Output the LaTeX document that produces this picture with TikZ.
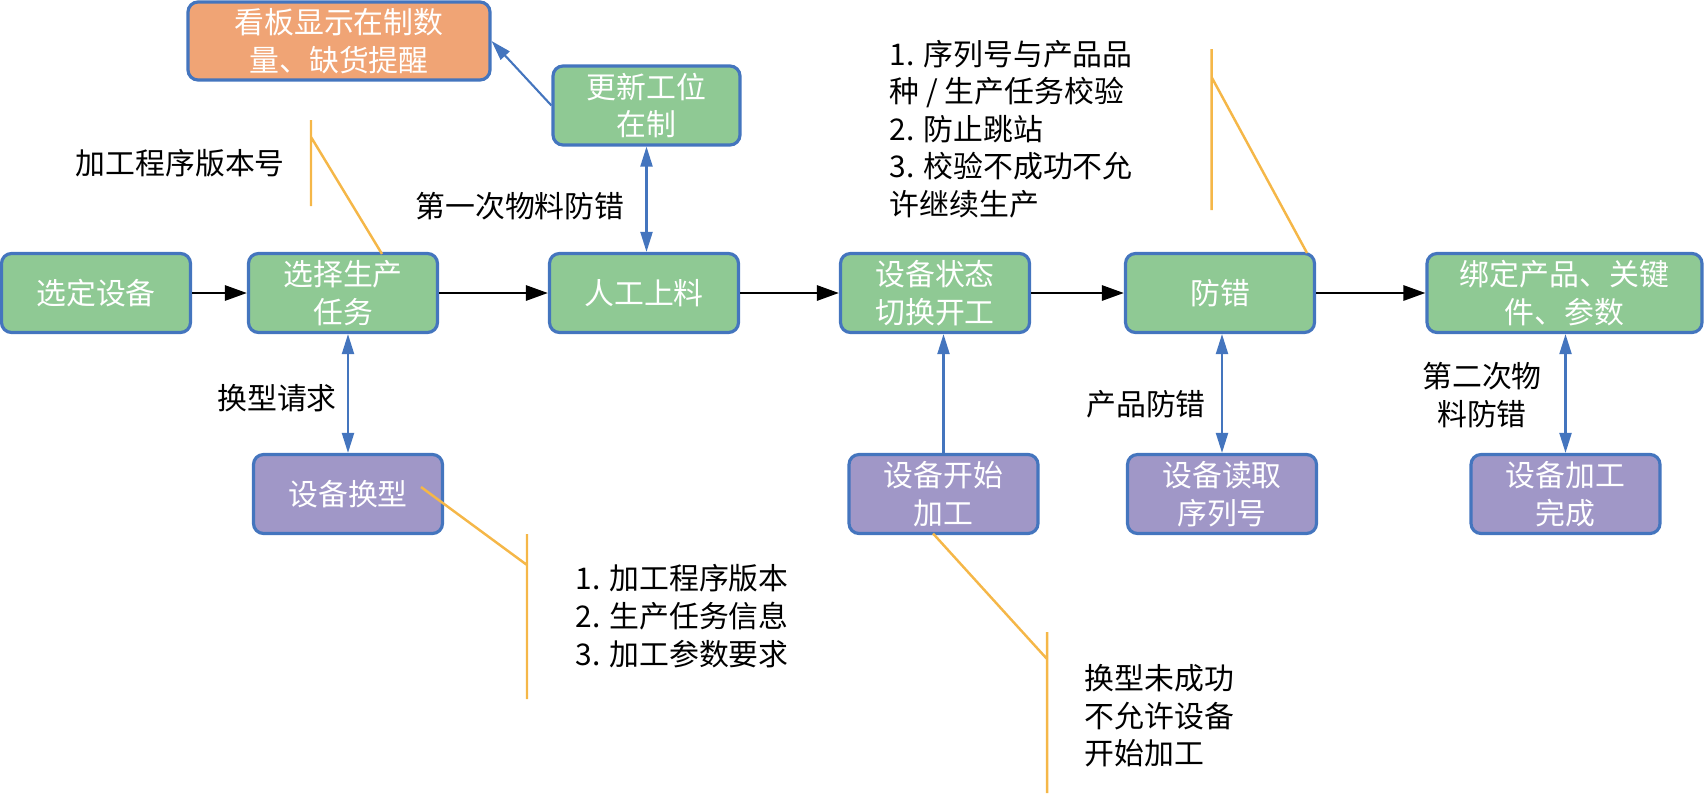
\documentclass[tikz,border=0pt]{standalone}
\usepackage{fontspec}
\setmainfont{Noto Sans CJK SC}
\usetikzlibrary{arrows.meta}
\definecolor{boxgreen}{RGB}{143,201,148}
\definecolor{boxpurple}{RGB}{160,151,199}
\definecolor{boxorange}{RGB}{240,164,117}
\definecolor{edgeblue}{RGB}{68,117,190}
\definecolor{noteline}{RGB}{245,183,72}
\begin{document}
\begin{tikzpicture}[
    font=\fontsize{8.5pt}{10.7pt}\selectfont,
    card/.style={draw=edgeblue, line width=0.9pt, rounded corners=0.1cm, text=white, align=center, minimum height=0.79cm, minimum width=1.89cm, inner sep=0pt},
    mainbox/.style={card, fill=boxgreen},
    devbox/.style={card, fill=boxpurple},
    flow/.style={line width=0.8pt, -{Triangle[length=0.22cm, width=0.15cm]}},
    link/.style={draw=edgeblue, line width=0.6pt, -{Triangle[length=0.2cm, width=0.12cm]}},
    bilink/.style={link, {Triangle[length=0.2cm, width=0.12cm]}-{Triangle[length=0.2cm, width=0.12cm]}},
    note/.style={align=left, inner sep=0pt},
    callout/.style={draw=noteline, line width=0.7pt}
  ]
      \useasboundingbox (0,0) rectangle (17.04,7.93);
      \node[mainbox] (pick) at (0.96,5.0) {选定设备};
      \node[mainbox] (task) at (3.43,5.0) {选择生产\\任务};
      \node[mainbox] (load) at (6.44,5.0) {人工上料};
      \node[mainbox] (start) at (9.35,5.0) {设备状态\\切换开工};
      \node[mainbox] (check) at (12.20,5.0) {防错};
      \node[mainbox, minimum width=2.75cm] (bind) at (15.645,5.0) {绑定产品、关键\\件、参数};
      \node[mainbox, minimum width=1.87cm] (upd) at (6.465,6.875) {更新工位\\在制};
      \node[card, fill=boxorange, minimum width=3.02cm, minimum height=0.78cm] (kb) at (3.39,7.52) {看板显示在制数\\量、缺货提醒};
      \node[devbox] (chg) at (3.48,2.99) {设备换型};
      \node[devbox] (run) at (9.435,2.99) {设备开始\\加工};
      \node[devbox] (read) at (12.22,2.99) {设备读取\\序列号};
      \node[devbox] (done) at (15.655,2.99) {设备加工\\完成};
      \draw[flow] (pick) -- (task);
      \draw[flow] (task) -- (load);
      \draw[flow] (load) -- (start);
      \draw[flow] (start) -- (check);
      \draw[flow] (check) -- (bind);
      \draw[bilink] (chg.north) -- (chg.north |- task.south);
      \draw[bilink] (upd.south) -- (upd.south |- load.north);
      \draw[link] (run.north) -- (run.north |- start.south);
      \draw[bilink] (read.north) -- (read.north |- check.south);
      \draw[bilink] (done.north) -- (done.north |- bind.south);
      \draw[link] (upd.west) -- (kb.east);
      \node[anchor=east] (lblfirst) at (6.37,5.87) {第一次物料防错};
      \node (lblchg) at (2.77,3.95) {换型请求};
      \node (lblprod) at (11.46,3.89) {产品防错};
      \node[align=center] (lblsecond) at (14.82,3.98) {第二次物\\料防错};
      \node[note, anchor=west] (noteprog) at (0.75,6.30) {加工程序版本号};
      \node[note, anchor=west] (notecheck) at (8.89,6.64) {1. 序列号与产品品\\种 / 生产任务校验\\2. 防止跳站\\3. 校验不成功不允\\许继续生产};
      \node[note, anchor=west] (notechg) at (5.75,1.77) {1. 加工程序版本\\2. 生产任务信息\\3. 加工参数要求};
      \node[note, anchor=west] (noterun) at (10.84,0.77) {换型未成功\\不允许设备\\开始加工};
      \coordinate (ctop1) at (3.11,6.73);
      \coordinate (cbot1) at (3.11,5.87);
      \coordinate (cknee1) at (3.11,6.56);
      \coordinate (ctip1) at (3.82,5.39);
      \draw[callout] (ctop1) -- (cbot1) (cknee1) -- (ctip1);
      \coordinate (ctop2) at (12.115,7.44);
      \coordinate (cbot2) at (12.115,5.83);
      \coordinate (cknee2) at (12.115,7.16);
      \coordinate (ctip2) at (13.07,5.40);
      \draw[callout] (ctop2) -- (cbot2) (cknee2) -- (ctip2);
      \coordinate (ctop3) at (5.27,2.59);
      \coordinate (cbot3) at (5.27,0.94);
      \coordinate (cknee3) at (5.27,2.28);
      \coordinate (ctip3) at (4.21,3.06);
      \draw[callout] (ctop3) -- (cbot3) (cknee3) -- (ctip3);
      \coordinate (ctop4) at (10.47,1.61);
      \coordinate (cbot4) at (10.47,0.0);
      \coordinate (cknee4) at (10.47,1.34);
      \coordinate (ctip4) at (9.33,2.595);
      \draw[callout] (ctop4) -- (cbot4) (cknee4) -- (ctip4);
    \end{tikzpicture}
\end{document}
